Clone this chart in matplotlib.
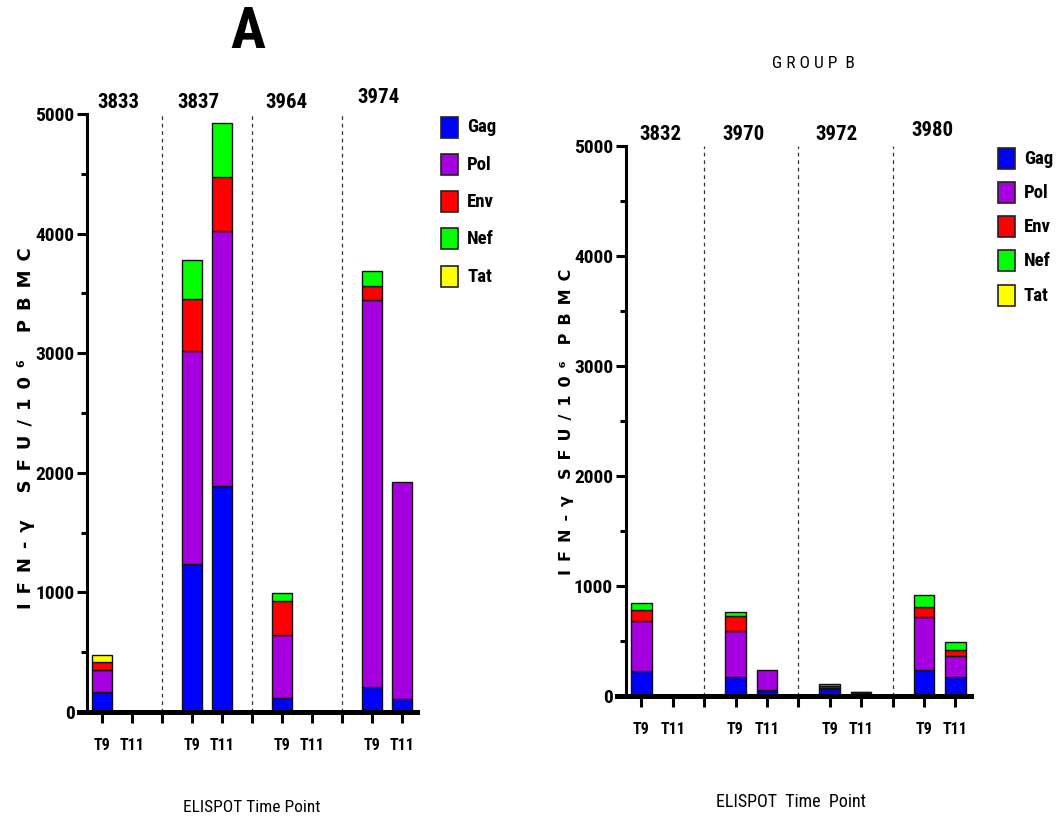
import matplotlib
matplotlib.use("Agg")
import matplotlib.pyplot as plt
from matplotlib import font_manager as fm
from matplotlib.patches import Rectangle
import numpy as np

# Animals per group and ELISPOT time points
group_a = ["3833", "3837", "3964", "3974"]
group_b = ["3832", "3970", "3972", "3980"]
timepoints = ["T9", "T11"]
antigens = ["Gag", "Pol", "Env", "Nef", "Tat"]
colors = ["#0000FF", "#A600E0", "#FF0000", "#00FF00", "#FFFF00"]

# IFN-gamma SFU per 10^6 PBMC, bars ordered animal by animal (T9, T11)
gag_a = [165, 0, 1240, 1890, 115, 0, 205, 105]
pol_a = [190, 0, 1780, 2130, 530, 0, 3240, 1820]
env_a = [65, 0, 430, 450, 280, 0, 120, 0]
nef_a = [0, 0, 330, 455, 70, 0, 125, 0]
tat_a = [55, 0, 0, 0, 0, 0, 0, 0]

gag_b = [230, 0, 175, 55, 60, 25, 235, 170]
pol_b = [450, 0, 420, 185, 15, 5, 485, 195]
env_b = [105, 0, 135, 0, 15, 3, 85, 50]
nef_b = [65, 0, 35, 0, 15, 3, 115, 75]
tat_b = [0, 0, 0, 0, 0, 0, 0, 0]


def narrow_font():
    """Pick a condensed sans-serif face if one is installed."""
    for fam in ["Liberation Sans Narrow", "Arial Narrow", "Roboto Condensed",
                "Open Sans Condensed", "DejaVu Sans Condensed",
                "Noto Sans Condensed"]:
        try:
            fm.findfont(fm.FontProperties(family=fam), fallback_to_default=False)
            return {"family": fam}
        except ValueError:
            pass
    for fam in ["DejaVu Sans", "Noto Sans", "Roboto", "Open Sans"]:
        try:
            path = fm.findfont(fm.FontProperties(family=fam, stretch="condensed"),
                               fallback_to_default=False)
        except ValueError:
            continue
        if "ondensed" in path or "arrow" in path:
            return {"family": fam, "stretch": "condensed"}
    return None


NF = narrow_font()
if NF is None:
    NF = {"family": "DejaVu Sans"}
    SHRINK = 0.85
else:
    SHRINK = 1.0

W, H = 1057, 823
fig = plt.figure(figsize=(W / 100, H / 100), dpi=100)


def fx(px):
    return px / W


def fy(py):
    return 1 - py / H


def panel(rect, series, groups, label_y, offsets):
    ax = fig.add_axes(rect)
    n_groups = len(groups)
    slots = []
    for g in range(n_groups):
        slots += [3 * g, 3 * g + 1]
    xpos = np.array(slots, dtype=float)
    bottom = np.zeros(len(xpos))
    for vals, col in zip(series, colors):
        vals = np.array(vals, dtype=float)
        mask = vals > 0
        ax.bar(xpos[mask], vals[mask], bottom=bottom[mask], width=0.66,
               color=col, edgecolor="#111111", linewidth=1.0, zorder=2)
        bottom += vals
    # dashed separators between animals
    for g in range(1, n_groups):
        ax.vlines(3 * g - 1, 0, 5000, colors="#333333", linestyles=(0, (3, 3)),
                  linewidth=0.9, zorder=1)
    xmax = 3 * n_groups - 1.5
    ax.set_xlim(-0.5, xmax)
    ax.set_ylim(0, 5000)
    for s in ("top", "right"):
        ax.spines[s].set_visible(False)
    ax.spines["left"].set_linewidth(2.2)
    ax.spines["bottom"].set_linewidth(3.6)
    ax.spines["bottom"].set_bounds(-0.78, xmax)
    ax.spines["bottom"].set_zorder(3)
    ax.set_yticks(np.arange(0, 5001, 1000))
    ax.set_yticks(np.arange(500, 5000, 1000), minor=True)
    ax.set_yticklabels([str(v) for v in range(0, 5001, 1000)], **NF,
                       fontweight="bold", fontsize=14 * SHRINK)
    ax.tick_params(axis="y", which="major", length=7, width=2.2, pad=2)
    ax.tick_params(axis="y", which="minor", length=4, width=2.2)
    xt = list(range(3 * n_groups - 1))
    xl = []
    for g in range(n_groups):
        xl += timepoints + ([""] if g < n_groups - 1 else [])
    ax.set_xticks(xt)
    ax.set_xticklabels(xl, **NF, fontweight="bold", fontsize=11.5 * SHRINK)
    ax.tick_params(axis="x", length=8, width=2.2, pad=11)
    for g, name in enumerate(groups):
        ax.text(3 * g + 0.5 + offsets[g], label_y[g], name, ha="center",
                va="bottom", **NF, fontweight="bold", fontsize=15 * SHRINK,
                clip_on=False)
    return ax


ax_a = panel([fx(87), fy(712), fx(417 - 87), fy(114) - fy(712)],
             [gag_a, pol_a, env_a, nef_a, tat_a], group_a,
             [5020, 5020, 5020, 5060], [0.06, -0.28, -0.34, -0.28])
ax_b = panel([fx(625.6), fy(696), fx(971 - 625.6), fy(146) - fy(696)],
             [gag_b, pol_b, env_b, nef_b, tat_b], group_b,
             [5020, 5020, 5020, 5050], [0.1, -0.23, -0.28, -0.22])

sp = "\u2002"
ylab_a = sp.join("IFN-γ") + sp * 3 + sp.join("SFU/10⁶") + sp * 3 + sp.join("PBMC")
ylab_b = sp.join("IFN-γ") + sp * 2 + sp.join("SFU/10⁶") + sp * 2 + sp.join("PBMC")
fig.text(fx(26), fy(428), ylab_a, rotation=90, ha="center", va="center",
         fontweight="bold", fontsize=13)
fig.text(fx(566), fy(422), ylab_b, rotation=90, ha="center", va="center",
         fontweight="bold", fontsize=11.5)

fig.text(fx(248), fy(33), "A", ha="center", va="center", **NF,
         fontweight="bold", fontsize=42 * SHRINK)
fig.text(fx(813), fy(63), "G R O U P  B", ha="center", va="center",
         **NF, fontsize=12.5 * SHRINK)

fig.text(fx(252), fy(808), "ELISPOT Time Point", ha="center", va="center",
         **NF, fontsize=12.5 * SHRINK)
fig.text(fx(791), fy(802), "ELISPOT  Time  Point", ha="center",
         va="center", **NF, fontsize=13 * SHRINK)


def legend(x0, y_first, step, size):
    for i, (name, col) in enumerate(zip(antigens, colors)):
        yc = y_first + i * step
        fig.add_artist(Rectangle((fx(x0), fy(yc + 10)), fx(17), fy(0) - fy(21),
                                 transform=fig.transFigure, facecolor=col,
                                 edgecolor="#222222", linewidth=1.2))
        fig.text(fx(x0 + 26), fy(yc), name, ha="left", va="center",
                 **NF, fontweight="bold", fontsize=size)


legend(441, 127.5, 37.3, 13.5 * SHRINK)
legend(998, 158.5, 34.3, 13.5 * SHRINK * SHRINK)

fig.savefig("out.png", dpi=100)
